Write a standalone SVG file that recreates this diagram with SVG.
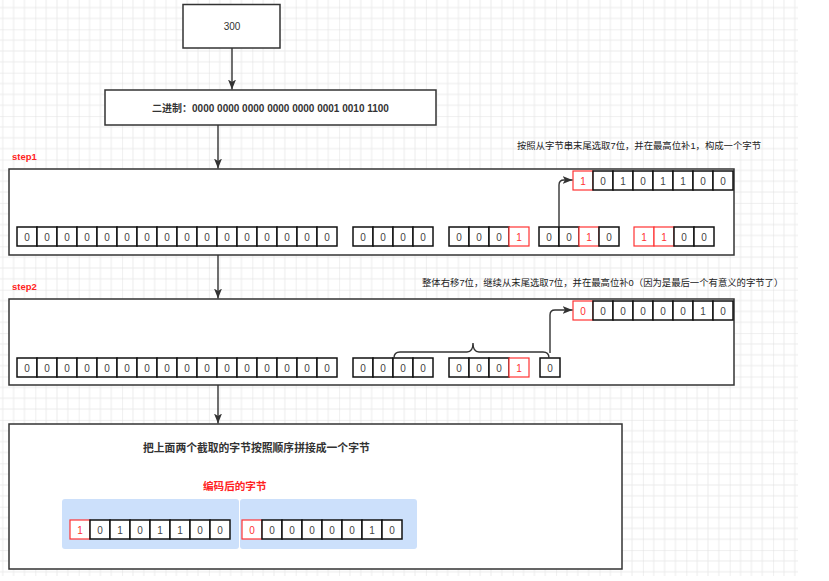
<svg xmlns="http://www.w3.org/2000/svg" width="829" height="581" viewBox="0 0 829 581">
<style>
  text { font-family: "Liberation Sans", "Noto Sans CJK SC", sans-serif; fill: #333; }
  .box { fill: #fff; stroke: #333; stroke-width: 1.5; }
  .c { fill: #fff; stroke: #111; stroke-width: 1.5; }
  .r { fill: #fff; stroke: #f33; stroke-width: 1.2; }
  .d { font-size: 10px; text-anchor: middle; fill: #444; }
  .dr { font-size: 10px; text-anchor: middle; fill: #f33; }
  .lbl { font-size: 9.5px; font-weight: bold; fill: #f22; }
  .note { font-size: 9.35px; fill: #222; }
  .title { font-size: 10.8px; font-weight: bold; fill: #333; }
  .redtitle { font-size: 10.6px; font-weight: bold; fill: #f22; }
  .con { fill: none; stroke: #333; stroke-width: 1.4; }
  .panel { fill: #cce0fb; }
</style>
<defs>
  <pattern id="grid" x="35.3" y="29.3" width="43.4" height="43.4" patternUnits="userSpaceOnUse">
    <path d="M10.85,0 V43.4 M21.7,0 V43.4 M32.55,0 V43.4 M0,10.85 H43.4 M0,21.7 H43.4 M0,32.55 H43.4" stroke="#ececec" stroke-width="1" fill="none"/>
    <path d="M0,0 V43.4 M0,0 H43.4" stroke="#e0e0e0" stroke-width="1" fill="none"/>
  </pattern>
  <marker id="arr" viewBox="0 0 10 8" refX="10" refY="4" markerWidth="10" markerHeight="8" markerUnits="userSpaceOnUse" orient="auto">
    <path d="M0,0 L10,4 L0,8 L2.5,4 z" fill="#333"/>
  </marker>
  <g id="cell0"><rect class="c" x="0" y="0" width="20" height="19"/><text class="d" x="10" y="13.5">0</text></g>
  <g id="cell1"><rect class="c" x="0" y="0" width="20" height="19"/><text class="d" x="10" y="13.5">1</text></g>
  <g id="red0"><rect class="r" x="0" y="0" width="20" height="19"/><text class="dr" x="10" y="13.5">0</text></g>
  <g id="red1"><rect class="r" x="0" y="0" width="20" height="19"/><text class="dr" x="10" y="13.5">1</text></g>
  <g id="zeros16">
    <use href="#cell0" x="0"/><use href="#cell0" x="20"/><use href="#cell0" x="40"/><use href="#cell0" x="60"/>
    <use href="#cell0" x="80"/><use href="#cell0" x="100"/><use href="#cell0" x="120"/><use href="#cell0" x="140"/>
    <use href="#cell0" x="160"/><use href="#cell0" x="180"/><use href="#cell0" x="200"/><use href="#cell0" x="220"/>
    <use href="#cell0" x="240"/><use href="#cell0" x="260"/><use href="#cell0" x="280"/><use href="#cell0" x="300"/>
  </g>
  <g id="zeros4">
    <use href="#cell0" x="0"/><use href="#cell0" x="20"/><use href="#cell0" x="40"/><use href="#cell0" x="60"/>
  </g>
  <g id="g0001">
    <use href="#cell0" x="0"/><use href="#cell0" x="20"/><use href="#cell0" x="40"/><use href="#red1" x="60"/>
  </g>
  <g id="byteA">
    <use href="#red1" x="0"/><use href="#cell0" x="20"/><use href="#cell1" x="40"/><use href="#cell0" x="60"/>
    <use href="#cell1" x="80"/><use href="#cell1" x="100"/><use href="#cell0" x="120"/><use href="#cell0" x="140"/>
  </g>
  <g id="byteB">
    <use href="#red0" x="0"/><use href="#cell0" x="20"/><use href="#cell0" x="40"/><use href="#cell0" x="60"/>
    <use href="#cell0" x="80"/><use href="#cell0" x="100"/><use href="#cell1" x="120"/><use href="#cell0" x="140"/>
  </g>
</defs>

<rect x="0" y="0" width="829" height="581" fill="#fff"/>
<rect x="0" y="0" width="798" height="576" fill="url(#grid)"/>

<g id="node-300">
  <rect class="box" x="183" y="4.5" width="97" height="43.5"/>
  <text x="232" y="30" font-size="10" text-anchor="middle">300</text>
</g>

<g id="node-binary">
  <rect class="box" x="105" y="90" width="331" height="35"/>
  <text x="270.5" y="111.5" font-size="10" font-weight="bold" text-anchor="middle">二进制：0000 0000 0000 0000 0000 0001 0010 1100</text>
</g>

<g id="node-step1">
  <text class="lbl" x="12" y="160">step1</text>
  <text class="note" x="517" y="149">按照从字节串末尾选取7位，并在最高位补1，构成一个字节</text>
  <rect class="box" x="9" y="169" width="725" height="86"/>
  <use href="#zeros16" x="17" y="227"/>
  <use href="#zeros4" x="353" y="227"/>
  <use href="#g0001" x="449" y="227"/>
  <g transform="translate(539,227)">
    <use href="#cell0" x="0"/><use href="#cell0" x="20"/><use href="#red1" x="40"/><use href="#cell0" x="60"/>
  </g>
  <g transform="translate(634,227)">
    <use href="#red1" x="0"/><use href="#red1" x="20"/><use href="#cell0" x="40"/><use href="#cell0" x="60"/>
  </g>
  <use href="#byteA" x="573" y="171"/>
</g>

<g id="node-step2">
  <text class="lbl" x="12" y="290">step2</text>
  <text class="note" x="422" y="286">整体右移7位，继续从末尾选取7位，并在最高位补0（因为是最后一个有意义的字节了）</text>
  <rect class="box" x="9" y="299" width="725" height="86"/>
  <use href="#zeros16" x="17" y="358"/>
  <use href="#zeros4" x="353" y="358"/>
  <use href="#g0001" x="449" y="358"/>
  <use href="#cell0" x="540" y="358"/>
  <use href="#byteB" x="573" y="301"/>
</g>

<g id="node-result">
  <rect class="box" x="9" y="424" width="613" height="145"/>
  <text class="title" x="143" y="452">把上面两个截取的字节按照顺序拼接成一个字节</text>
  <text class="redtitle" x="203" y="490">编码后的字节</text>
  <rect class="panel" x="62" y="499" width="177" height="50" rx="3"/>
  <rect class="panel" x="240" y="499" width="177" height="50" rx="3"/>
  <use href="#byteA" x="70" y="520"/>
  <use href="#byteB" x="242" y="520"/>
</g>

<g id="connectors">
  <line class="con" x1="232" y1="48" x2="232" y2="89.5" marker-end="url(#arr)"/>
  <line class="con" x1="218" y1="125" x2="218" y2="168.5" marker-end="url(#arr)"/>
  <line class="con" x1="218" y1="255" x2="218" y2="298.5" marker-end="url(#arr)"/>
  <line class="con" x1="218" y1="385" x2="218" y2="423.5" marker-end="url(#arr)"/>
  <path class="con" d="M559,227 V185 Q559,180 564,180 H572.5" marker-end="url(#arr)"/>
  <path class="con" d="M550,353 V315 Q550,310 555,310 H572.5" marker-end="url(#arr)"/>
  <path class="con" stroke-width="1.2" d="M394,358 Q394,352 400,352 H467 Q473,352 473,343 Q473,352 479,352 H543 Q549,352 549,358"/>
</g>
</svg>
